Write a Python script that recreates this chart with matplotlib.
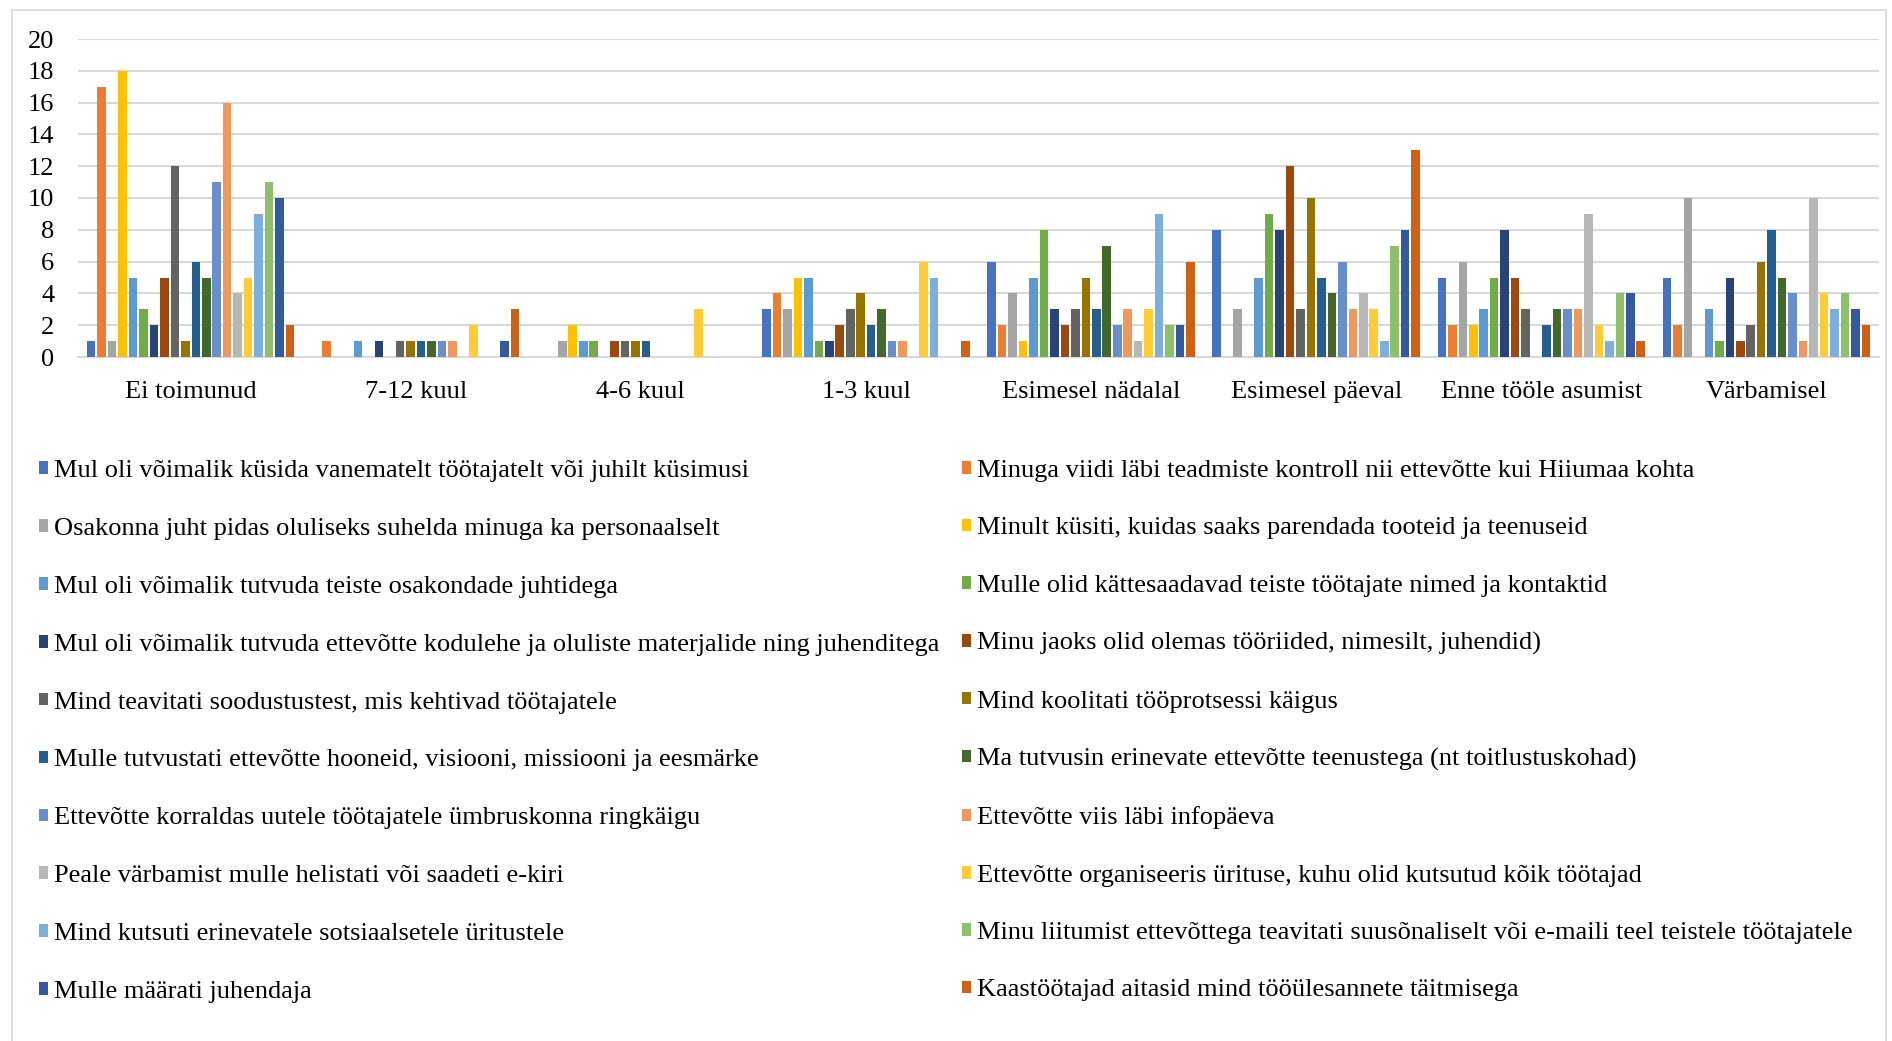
import numpy as np
import matplotlib.pyplot as plt
from matplotlib.patches import Patch
from matplotlib.lines import Line2D

categories = ["Ei toimunud", "7-12 kuul", "4-6 kuul", "1-3 kuul",
              "Esimesel nädalal", "Esimesel päeval", "Enne tööle asumist", "Värbamisel"]

labels = [
    "Mul oli võimalik küsida vanematelt töötajatelt või juhilt küsimusi",
    "Minuga viidi läbi teadmiste kontroll nii ettevõtte kui Hiiumaa kohta",
    "Osakonna juht pidas oluliseks suhelda minuga ka personaalselt",
    "Minult küsiti, kuidas saaks parendada tooteid ja teenuseid",
    "Mul oli võimalik tutvuda teiste osakondade juhtidega",
    "Mulle olid kättesaadavad teiste töötajate nimed ja kontaktid",
    "Mul oli võimalik tutvuda ettevõtte kodulehe ja oluliste materjalide ning juhenditega",
    "Minu jaoks olid olemas tööriided, nimesilt, juhendid)",
    "Mind teavitati soodustustest, mis kehtivad töötajatele",
    "Mind koolitati tööprotsessi käigus",
    "Mulle tutvustati ettevõtte hooneid, visiooni, missiooni ja eesmärke",
    "Ma tutvusin erinevate ettevõtte teenustega (nt toitlustuskohad)",
    "Ettevõtte korraldas uutele töötajatele ümbruskonna ringkäigu",
    "Ettevõtte viis läbi infopäeva",
    "Peale värbamist mulle helistati või saadeti e-kiri",
    "Ettevõtte organiseeris ürituse, kuhu olid kutsutud kõik töötajad",
    "Mind kutsuti erinevatele sotsiaalsetele üritustele",
    "Minu liitumist ettevõttega teavitati suusõnaliselt või e-maili teel teistele töötajatele",
    "Mulle määrati juhendaja",
    "Kaastöötajad aitasid mind tööülesannete täitmisega",
]

colors = ["#4472C4", "#ED7D31", "#A5A5A5", "#FFC000", "#5B9BD5", "#70AD47",
          "#264478", "#9E480E", "#636363", "#997300", "#255E91", "#43682B",
          "#698ED0", "#F1975A", "#B7B7B7", "#FFCD33", "#7CAFDD", "#8CC168",
          "#335AA1", "#D26012"]

# values per series, one number per category (same order as categories)
s01 = [1, 0, 0, 3, 6, 8, 5, 5]
s02 = [17, 1, 0, 4, 2, 0, 2, 2]
s03 = [1, 0, 1, 3, 4, 3, 6, 10]
s04 = [18, 0, 2, 5, 1, 0, 2, 0]
s05 = [5, 1, 1, 5, 5, 5, 3, 3]
s06 = [3, 0, 1, 1, 8, 9, 5, 1]
s07 = [2, 1, 0, 1, 3, 8, 8, 5]
s08 = [5, 0, 1, 2, 2, 12, 5, 1]
s09 = [12, 1, 1, 3, 3, 3, 3, 2]
s10 = [1, 1, 1, 4, 5, 10, 0, 6]
s11 = [6, 1, 1, 2, 3, 5, 2, 8]
s12 = [5, 1, 0, 3, 7, 4, 3, 5]
s13 = [11, 1, 0, 1, 2, 6, 3, 4]
s14 = [16, 1, 0, 1, 3, 3, 3, 1]
s15 = [4, 0, 0, 0, 1, 4, 9, 10]
s16 = [5, 2, 3, 6, 3, 3, 2, 4]
s17 = [9, 0, 0, 5, 9, 1, 1, 3]
s18 = [11, 0, 0, 0, 2, 7, 4, 4]
s19 = [10, 1, 0, 0, 2, 8, 4, 3]
s20 = [2, 3, 0, 1, 6, 13, 1, 2]

series = [s01, s02, s03, s04, s05, s06, s07, s08, s09, s10,
          s11, s12, s13, s14, s15, s16, s17, s18, s19, s20]

plt.rcParams['font.family'] = ['Liberation Serif', 'DejaVu Serif']

fig = plt.figure(figsize=(18.92, 10.41), dpi=100)
ax = fig.add_axes([78/1892, 1 - 357/1041, (1879-78)/1892, (357-39)/1041])

x = np.arange(len(categories))
slot = 0.0465
n = len(series)
for k, vals in enumerate(series):
    ax.bar(x + (k - (n - 1) / 2) * slot, vals, width=0.038, color=colors[k],
           zorder=3, label=labels[k])

ax.set_xlim(-0.5, len(categories) - 0.5)
ax.set_ylim(0, 20)
ax.set_yticks(range(0, 21, 2))
ax.set_xticks(x)
ax.set_xticklabels(categories)
ax.tick_params(axis='both', length=0, labelsize=19, colors='black')
ax.tick_params(axis='x', pad=17)
ax.tick_params(axis='y', pad=17)
ax.grid(axis='y', color='#D9D9D9', linewidth=1.5, zorder=0)
for sp in ['top', 'right', 'left']:
    ax.spines[sp].set_visible(False)
ax.spines['bottom'].set_color('#D9D9D9')
ax.spines['bottom'].set_linewidth(1.5)

# legend: two columns, filled row-wise
handles = [Patch(facecolor=c) for c in colors]
left_idx = list(range(0, n, 2))
right_idx = list(range(1, n, 2))
common = dict(frameon=False, fontsize=19, handlelength=0.35, handleheight=0.36,
              handletextpad=0.2, borderpad=0, borderaxespad=0, loc='upper left')
leg1 = fig.legend([handles[i] for i in left_idx], [labels[i] for i in left_idx],
                  bbox_to_anchor=(39/1892, 1 - 460/1041), labelspacing=1.36, **common)
leg2 = fig.legend([handles[i] for i in right_idx], [labels[i] for i in right_idx],
                  bbox_to_anchor=(962/1892, 1 - 460/1041), labelspacing=1.34, **common)

# chart area border
for xs, ys in [([12, 12], [10, 1041]), ([12, 1886], [10, 10]), ([1886, 1886], [10, 1041])]:
    fig.add_artist(Line2D([v/1892 for v in xs], [1 - v/1041 for v in ys],
                          color='#D9D9D9', linewidth=1.2))

fig.savefig('out.png', dpi=100)
